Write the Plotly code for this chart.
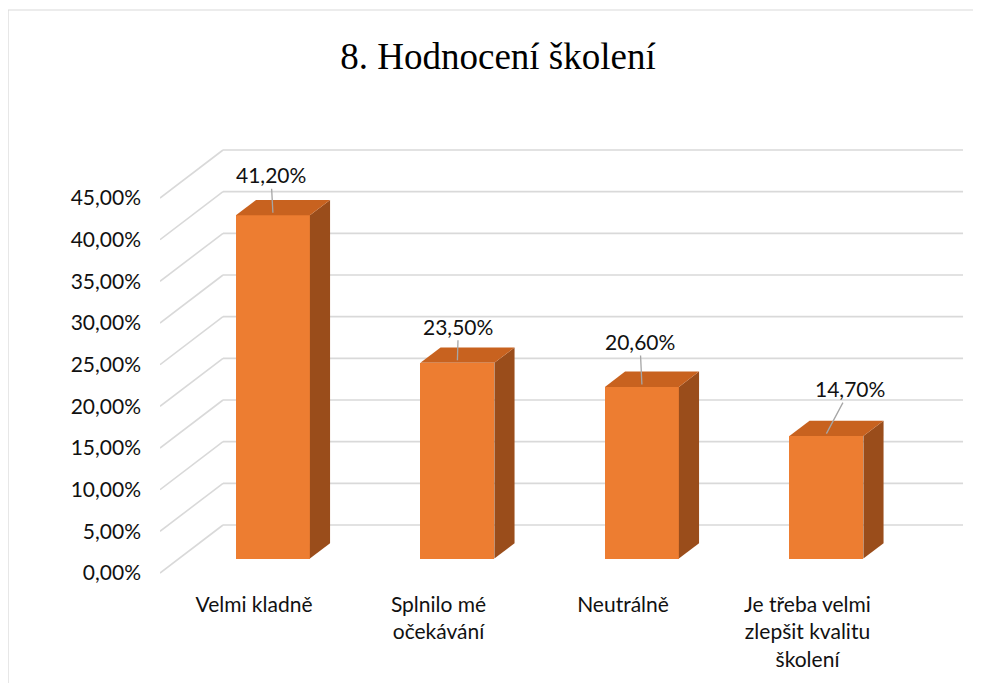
import plotly.graph_objects as go

# ---- data ----
categories = ["Velmi kladně", "Splnilo mé<br>očekávání", "Neutrálně",
              "Je třeba velmi<br>zlepšit kvalitu<br>školení"]
values = [41.2, 23.5, 20.6, 14.7]
y_ticks = [0, 5, 10, 15, 20, 25, 30, 35, 40, 45]
y_ticktext = [f"{v:.2f}".replace(".", ",") + "%" for v in y_ticks]
label_text = [f"{v:.2f}".replace(".", ",") + "%" for v in values]

# ---- pseudo-3D geometry (axis units) ----
XMIN, XMAX = -0.5095, 3.8537
YMIN, YMAX = -2.04, 51.96
DX, DY = 0.3415, 5.76          # offset of back wall relative to front plane
XBACK = 3.843                  # right end of back wall
ZB, DZ = 0.30, 0.32            # bar front depth and bar depth (fraction of DX/DY)
BAR_W = 0.401

FRONT = "#ED7D31"
SIDE = "#9A4D1B"
TOP = "#C8621F"
GRID = "#D9D9D9"
TXT = "#111111"
FONT = "Lato, Calibri, sans-serif"
PAGE_SHIFT = 8  # default body margin of the html page

fig = go.Figure()

xs = [i + ZB * DX for i in range(len(values))]
base = ZB * DY
ddx, ddy = DZ * DX, DZ * DY

# side and top faces
for xc, v in zip(xs, values):
    xr = xc + BAR_W / 2
    xl = xc - BAR_W / 2
    fig.add_trace(go.Scatter(
        x=[xr, xr + ddx, xr + ddx, xr, xr],
        y=[base, base + ddy, base + v + ddy, base + v, base],
        fill="toself", fillcolor=SIDE, mode="lines", line=dict(width=0),
        hoverinfo="skip", showlegend=False))
    fig.add_trace(go.Scatter(
        x=[xl, xr, xr + ddx, xl + ddx, xl],
        y=[base + v, base + v, base + v + ddy, base + v + ddy, base + v],
        fill="toself", fillcolor=TOP, mode="lines", line=dict(width=0),
        hoverinfo="skip", showlegend=False))

# front faces
fig.add_trace(go.Bar(
    x=xs, y=values, base=[base] * len(values), width=BAR_W,
    marker=dict(color=FRONT, line=dict(width=0)),
    hoverinfo="skip", showlegend=False))

# gridlines (back wall + left diagonals)
shapes = []
for v in y_ticks:
    shapes.append(dict(type="line", xref="x", yref="y", layer="below",
                       x0=XMIN, y0=v, x1=XMIN + DX, y1=v + DY,
                       line=dict(color=GRID, width=1.6)))
    shapes.append(dict(type="line", xref="x", yref="y", layer="below",
                       x0=XMIN + DX, y0=v + DY, x1=XBACK, y1=v + DY,
                       line=dict(color=GRID, width=1.6)))
# chart border
shapes.append(dict(type="rect", xref="paper", yref="paper",
                   x0=-0.1888, x1=1.03, y0=-0.3, y1=1.2889,
                   line=dict(color=GRID, width=1.2), fillcolor="rgba(0,0,0,0)"))

# data labels with leader lines
label_offsets = [(-2, -38), (1, -34), (-2, -43), (24, -45)]
annotations = []
for xc, v, t, (ax, ay) in zip(xs, values, label_text, label_offsets):
    annotations.append(dict(
        x=xc, y=v + base + 0.3, xref="x", yref="y", text=t,
        showarrow=True, arrowhead=0, arrowwidth=1.3, arrowcolor="#A6A6A6",
        ax=ax, ay=ay, standoff=0,
        font=dict(family=FONT, size=21, color=TXT)))

L, T = 160 - PAGE_SHIFT, 140 - PAGE_SHIFT
PW, PH = 805, 450
fig.update_layout(
    width=981, height=683,
    margin=dict(l=L, r=981 - L - PW, t=T, b=683 - T - PH),
    paper_bgcolor="white", plot_bgcolor="white",
    title=dict(text="8. Hodnocení školení", x=(498 - PAGE_SHIFT) / 981,
               xref="container", xanchor="center",
               y=1 - (56 - PAGE_SHIFT) / 683, yref="container",
               yanchor="middle",
               font=dict(family="Liberation Serif, Times New Roman, serif",
                         size=37, color="#000000")),
    xaxis=dict(range=[XMIN, XMAX], tickvals=list(range(len(categories))),
               ticktext=categories, showgrid=False, zeroline=False,
               showline=False, ticks="", fixedrange=True,
               tickfont=dict(family=FONT, size=21, color=TXT)),
    yaxis=dict(range=[YMIN, YMAX], tickvals=y_ticks, ticktext=y_ticktext,
               showgrid=False, zeroline=False, showline=False, ticks="",
               ticklabelstandoff=18, fixedrange=True,
               tickfont=dict(family=FONT, size=21, color=TXT)),
    shapes=shapes, annotations=annotations, bargap=0,
)

fig.write_html("out.html")
